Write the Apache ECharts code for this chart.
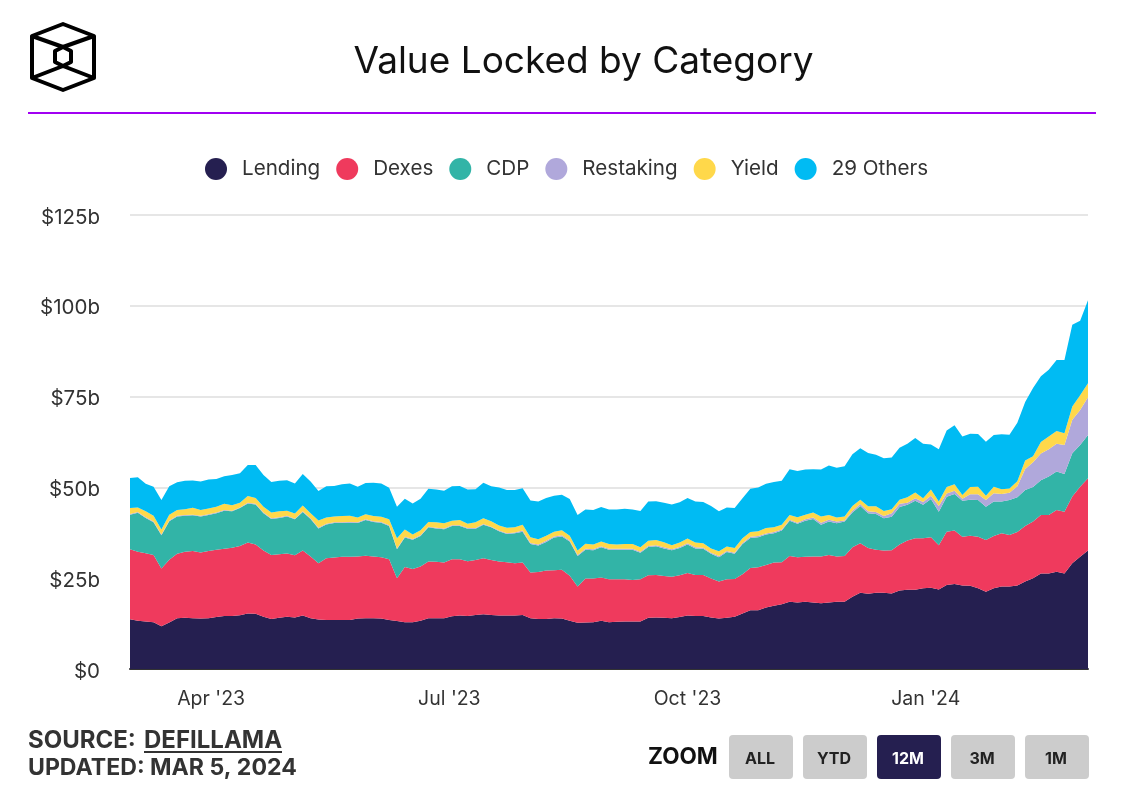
<!DOCTYPE html>
<html><head><meta charset="utf-8">
<script src="https://cdn.jsdelivr.net/npm/echarts@6/dist/echarts.min.js"></script>
<style>html,body{margin:0;padding:0;background:#fff}#c{width:1122px;height:788px}</style>
</head><body><div id="c"></div>
<script>
const startDate = '2023-03-05';
const stepDays = 3;
const lending = [13.7,13.3,13.1,12.9,11.8,12.8,14.0,14.1,14.0,13.9,14.0,14.3,14.6,14.6,14.8,15.3,15.2,14.4,13.8,14.1,14.4,14.2,14.7,14.0,13.6,13.5,13.5,13.5,13.5,13.9,14.0,14.0,13.9,13.5,13.2,12.9,12.9,13.3,14.0,14.0,14.0,14.5,14.7,14.6,14.9,15.1,14.9,14.7,14.7,14.7,14.9,14.0,13.8,13.8,14.0,13.9,13.3,12.7,12.8,12.9,13.3,12.9,13.0,13.1,13.1,13.1,14.1,14.2,14.1,14.0,14.3,14.7,14.6,14.6,14.2,13.9,14.1,14.4,15.3,16.2,16.2,16.9,17.4,17.8,18.5,18.3,18.5,18.3,18.1,18.3,18.5,18.5,19.9,21.0,20.7,21.0,21.0,20.8,21.6,21.8,21.8,22.2,22.4,21.9,23.1,23.4,23.0,22.9,22.2,21.3,22.2,22.7,22.7,23.0,24.1,25.0,26.3,26.3,26.8,26.3,29.1,30.9,32.6];
const dexes = [19.3,19.0,18.8,18.5,15.9,17.3,17.7,18.2,18.5,18.2,18.5,18.5,18.5,18.8,19.1,19.5,19.1,18.2,17.6,17.5,17.4,17.1,17.9,17.0,15.5,17.0,17.2,17.4,17.4,17.1,17.2,17.0,16.9,16.7,11.8,15.2,14.6,14.9,15.6,15.5,15.3,15.7,15.5,15.1,15.1,15.4,15.1,14.9,14.7,14.4,14.4,12.6,12.9,13.3,13.2,13.4,12.4,10.0,12.1,12.0,11.9,11.8,11.7,11.6,11.4,11.6,11.7,11.7,11.5,11.4,11.5,11.7,11.3,11.3,10.7,10.2,10.6,10.4,10.8,11.6,11.8,11.7,11.9,11.6,12.6,12.5,12.4,12.7,12.9,13.1,12.5,12.6,13.6,13.6,12.6,11.8,11.6,11.9,12.7,13.6,14.2,13.8,13.9,12.2,14.7,14.7,13.4,13.8,14.2,14.2,14.4,14.7,14.2,14.7,15.3,15.6,16.1,16.1,17.0,17.0,18.4,19.3,19.9];
const cdp = [9.5,10.7,9.7,9.0,9.1,10.6,10.3,9.9,9.8,9.9,9.9,10.1,10.5,10.0,10.4,10.8,11.0,10.3,9.9,10.0,10.2,9.9,10.6,10.3,9.6,9.3,9.5,9.3,9.4,9.2,9.8,9.5,9.5,9.2,8.0,8.1,8.1,8.4,9.4,9.2,9.2,9.2,9.2,8.9,8.6,9.2,9.0,8.3,7.8,8.3,8.5,7.8,7.3,7.9,9.0,9.2,9.4,8.4,7.9,7.8,8.3,8.1,8.1,8.1,8.3,7.3,7.8,7.9,7.6,7.3,7.5,7.9,7.3,7.2,6.8,6.7,7.5,6.9,8.3,8.3,8.3,8.4,8.1,8.7,9.7,9.2,9.9,10.3,8.7,9.2,9.1,9.5,9.6,10.3,9.6,9.9,8.9,9.2,10.3,9.8,10.3,9.2,10.5,9.2,9.6,10.1,9.9,9.9,10.1,9.2,9.5,8.7,9.6,9.6,9.9,9.5,9.6,10.6,10.6,10.4,11.9,11.5,11.9];
const restaking = [0.2,0.2,0.2,0.2,0.2,0.2,0.2,0.2,0.2,0.2,0.2,0.2,0.2,0.2,0.2,0.2,0.2,0.2,0.2,0.2,0.2,0.2,0.2,0.2,0.2,0.2,0.2,0.2,0.2,0.2,0.2,0.2,0.2,0.2,0.2,0.2,0.2,0.2,0.2,0.2,0.2,0.2,0.2,0.2,0.2,0.2,0.2,0.2,0.2,0.2,0.3,0.3,0.3,0.3,0.3,0.3,0.3,0.3,0.3,0.3,0.3,0.3,0.3,0.3,0.3,0.3,0.3,0.3,0.3,0.3,0.3,0.3,0.3,0.3,0.3,0.3,0.3,0.3,0.3,0.3,0.3,0.3,0.3,0.3,0.3,0.3,0.4,0.4,0.6,0.5,0.5,0.3,0.5,0.5,0.5,0.5,0.6,1.0,0.9,0.6,0.7,0.8,0.9,1.6,0.9,0.9,0.6,1.5,1.6,1.8,2.3,2.1,2.0,3.0,5.8,6.8,7.3,7.5,7.6,8.0,9.2,9.6,10.4];
const yieldCat = [1.6,1.3,1.6,1.6,1.4,1.6,1.6,1.6,1.9,1.6,1.6,1.6,1.7,1.5,1.3,1.8,1.6,1.6,1.6,1.6,1.4,1.4,1.6,1.4,2.0,1.7,1.6,1.7,1.7,1.3,1.4,1.4,1.4,1.6,2.8,2.0,1.2,1.4,1.3,1.5,1.4,1.2,1.4,1.2,1.6,1.6,1.5,1.4,1.5,1.4,1.6,1.6,1.4,1.4,1.3,1.4,1.3,1.2,1.4,1.3,1.3,1.3,1.2,1.3,1.3,1.2,1.4,1.4,1.4,1.1,1.2,1.3,1.3,1.2,1.2,1.3,1.2,1.3,1.3,1.3,1.3,1.5,1.3,1.3,1.3,1.5,1.3,1.4,1.7,1.3,1.1,1.1,1.3,1.2,1.4,1.6,1.4,1.1,1.1,1.5,1.6,1.0,1.7,1.2,1.8,1.8,1.0,2.0,2.1,1.2,1.8,1.3,1.2,1.4,2.3,1.7,3.2,3.5,3.5,3.2,3.7,4.1,3.9];
const others = [8.3,8.3,7.6,8.0,8.1,7.8,7.6,7.8,7.5,7.8,8.0,7.6,7.6,8.3,8.1,8.6,9.1,8.7,8.4,8.4,8.4,8.3,8.7,8.7,8.1,8.6,8.4,8.8,8.9,8.5,8.6,9.2,9.2,8.7,8.7,8.5,8.6,8.7,9.1,9.0,9.0,9.5,9.4,9.4,9.1,9.8,9.6,10.5,10.4,10.3,10.1,10.1,10.4,10.4,9.9,9.8,10.1,9.8,9.4,9.5,9.5,9.5,9.6,9.7,9.5,10.0,10.8,10.7,10.9,11.2,11.1,11.2,11.3,11.4,11.7,11.0,10.8,11.0,11.0,11.9,12.1,12.2,12.5,12.1,12.6,12.7,12.4,11.9,12.9,13.6,13.7,13.8,14.2,14.2,14.7,14.2,14.5,14.2,14.3,14.7,15.0,15.0,12.4,14.4,15.6,16.2,16.1,14.7,14.5,14.9,14.2,15.1,14.8,16.1,16.1,18.8,18.1,18.4,19.6,20.2,22.5,20.5,22.8];
const seriesNames = ['Lending','Dexes','CDP','Restaking','Yield','29 Others'];
const seriesValues = [lending,dexes,cdp,restaking,yieldCat,others];
const seriesColors = ['#251F50','#EF3A5D','#32B4A7','#B0A8DB','#FFD84A','#00BBF3'];
const xTickDates = ['2023-04-05','2023-07-05','2023-10-04','2024-01-03'];
const xTickLabels = ["Apr '23","Jul '23","Oct '23","Jan '24"];
const yTickLabels = ['$0','$25b','$50b','$75b','$100b','$125b'];
const zoomButtons = ['ALL','YTD','12M','3M','1M'];

const FONT = 'Inter, "Noto Sans", sans-serif';
const DAY = 86400000;
const t0 = Date.parse(startDate + 'T00:00:00Z');
const times = lending.map((_, i) => t0 + i * stepDays * DAY);
const xTicks = xTickDates.map(d => Date.parse(d + 'T00:00:00Z'));

const chart = echarts.init(document.getElementById('c'), null, {renderer:'canvas'});

const logoStyle = {stroke:'#000', lineWidth:4, fill:null, lineJoin:'round'};
const logo = [
  {type:'polygon', shape:{points:[[63,24],[94,36],[94,78],[63,90],[32,78],[32,36]]}, style:logoStyle},
  {type:'polygon', shape:{points:[[63,47],[71,51],[71,62],[63,66],[55,62],[55,51]]}, style:logoStyle},
  {type:'polyline', shape:{points:[[32,36],[63,47],[94,36]]}, style:logoStyle},
  {type:'polyline', shape:{points:[[32,78],[63,66],[94,78]]}, style:logoStyle}
];
const btn = zoomButtons.map((b,i)=>{
  const x = 729 + i*74, active = b==='12M';
  return {type:'group', children:[
    {type:'rect', shape:{x:x,y:735,width:64,height:44,r:4}, style:{fill:active?'#251F50':'#CCCCCC'}},
    {type:'text', x:x+31, y:759, style:{text:b, font:'700 16px '+FONT, fill:active?'#fff':'#222', align:'center', verticalAlign:'middle'}}
  ]};
});

chart.setOption({
  animation:false,
  textStyle:{fontFamily:FONT},
  title:{text:'Value Locked by Category', left:578.5, top:38, textAlign:'center',
    textStyle:{fontFamily:FONT,fontSize:37,fontWeight:400,color:'#111'}},
  legend:{top:153, left:200, icon:'circle', itemWidth:22, itemHeight:22, itemGap:16,
    data:seriesNames, selectedMode:false,
    textStyle:{fontFamily:FONT,fontSize:20.6,color:'#333',padding:[0,0,0,10]}},
  grid:{left:130,right:34,top:215,bottom:119},
  xAxis:[
    {type:'time', min:times[0], max:times[times.length-1],
      axisLine:{show:true,lineStyle:{color:'#333',width:2}}, axisTick:{show:false}, splitLine:{show:false},
      axisLabel:{show:false}},
    {type:'value', position:'bottom', min:times[0], max:times[times.length-1],
      axisLine:{show:false}, axisTick:{show:false}, splitLine:{show:false},
      axisLabel:{customValues:xTicks, margin:20, fontSize:19.5, color:'#333', fontFamily:FONT, hideOverlap:false,
        formatter:v=>{const i=xTicks.indexOf(+v);return i>=0?xTickLabels[i]:'';}}}
  ],
  yAxis:{type:'value', min:0, max:125, interval:25,
    axisLine:{show:false}, axisTick:{show:false},
    splitLine:{lineStyle:{color:'#E6E6E6',width:2}},
    axisLabel:{margin:30, color:'#333', formatter:v=>'{t|'+yTickLabels[v/25]+'}',
      rich:{t:{fontSize:20.5, color:'#333', fontFamily:FONT, padding:[5,0,0,0]}}}},
  series:seriesNames.map((n,k)=>({
    name:n, type:'line', stack:'tvl', showSymbol:false, symbol:'circle', smooth:false,
    xAxisIndex:0, color:seriesColors[k], lineStyle:{width:0}, areaStyle:{color:seriesColors[k],opacity:1},
    itemStyle:{color:seriesColors[k]},
    data:times.map((t,i)=>[t,seriesValues[k][i]])
  })),
  graphic:{elements:[
    {type:'rect', shape:{x:28,y:112,width:1068,height:2}, style:{fill:'#A100F2'}},
    ...logo,
    {type:'text', x:28, y:741, style:{text:'SOURCE:', font:'700 24px '+FONT, fill:'#333', verticalAlign:'middle'}},
    {type:'text', x:144, y:741, style:{text:'DEFILLAMA', font:'700 24px '+FONT, fill:'#333', verticalAlign:'middle'}},
    {type:'rect', shape:{x:144,y:751,width:138,height:2}, style:{fill:'#333'}},
    {type:'text', x:28, y:768, style:{text:'UPDATED: MAR 5, 2024', font:'700 23.1px '+FONT, fill:'#333', verticalAlign:'middle'}},
    {type:'text', x:648, y:757, style:{text:'ZOOM', font:'700 22.5px '+FONT, fill:'#111', verticalAlign:'middle'}},
    ...btn
  ]}
});
</script></body></html>
